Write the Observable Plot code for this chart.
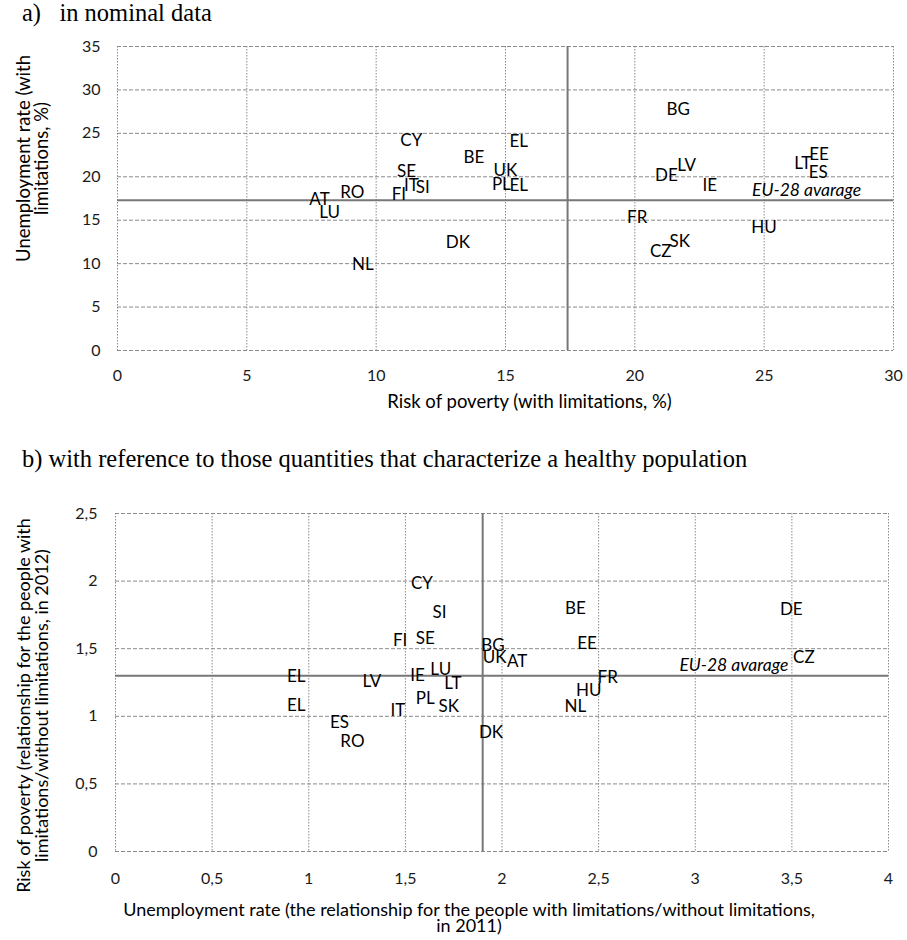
<!DOCTYPE html>
<html>
<head>
<meta charset="utf-8">
<script src="https://cdn.jsdelivr.net/npm/d3@7"></script>
<script src="https://cdn.jsdelivr.net/npm/@observablehq/plot@0.6"></script>
<style>
  html, body { margin: 0; padding: 0; background: #fff; }
  body { width: 907px; height: 940px; position: relative; overflow: hidden; }
  .title { position: absolute; font-family: "Liberation Serif", "Times New Roman", serif; font-size: 24.5px; line-height: 1.107; color: #000; white-space: pre; }
  #panelA, #panelB { position: absolute; left: 0; }
  #panelA { top: 0; }
  #panelB { top: 480px; }
</style>
</head>
<body>
<div id="panelA"></div>
<div id="panelB"></div>
<div class="title" style="left:22px; top:-1px;">a)   in nominal data</div>
<div class="title" style="left:22px; top:445px;">b) with reference to those quantities that characterize a healthy population</div>
<script>
// ---------- Panel a: nominal data ----------
const countriesA = ["CY","SE","IT","SI","FI","RO","AT","LU","NL","DK","BE","EL","UK","PL","EL","BG","DE","LV","IE","FR","CZ","SK","HU","LT","EE","ES"];
const povertyA = [11.36,11.17,11.36,11.8,10.88,9.08,7.81,8.2,9.49,13.16,13.78,15.51,15.0,14.84,15.51,21.68,21.22,22.0,22.9,20.09,21.0,21.74,24.99,26.49,27.12,27.09];
const unemploymentA = [24.2,20.6,19.0,18.8,18.0,18.2,17.35,15.9,9.9,12.47,22.25,24.06,20.7,19.1,19.0,27.75,20.2,21.3,19.0,15.35,11.4,12.55,14.1,21.5,22.6,20.45];
const avgPovertyA = 17.4;
const avgUnemploymentA = 17.3;
const ticksXA = [0,5,10,15,20,25,30];
const ticksYA = [0,5,10,15,20,25,30,35];

// ---------- Panel b: ratios to healthy population ----------
const countriesB = ["CY","SI","FI","SE","BE","DE","BG","UK","AT","EE","CZ","FR","HU","NL","DK","SK","PL","IT","EL","ES","RO","EL","LV","IE","LU","LT"];
const unempRatioB = [1.586,1.677,1.473,1.603,2.38,3.497,1.953,1.962,2.078,2.44,3.562,2.547,2.449,2.38,1.943,1.724,1.603,1.461,0.935,1.159,1.226,0.935,1.327,1.563,1.683,1.746];
const povertyRatioB = [1.98,1.766,1.56,1.573,1.80,1.788,1.524,1.433,1.408,1.54,1.437,1.285,1.19,1.075,0.882,1.072,1.129,1.043,1.08,0.956,0.814,1.294,1.257,1.30,1.344,1.24];
const avgUnempB = 1.9;
const avgPovertyB = 1.3;
const ticksXB = [0,0.5,1,1.5,2,2.5,3,3.5,4];
const ticksYB = [0,0.5,1,1.5,2,2.5];

const euLabel = "EU-28 avarage";
const fmtComma = d => String(d).replace(".", ",");

const FONT = "Lato, 'Open Sans', sans-serif";
const gridColor = "#8a8a8a";
const avgColor = "#777777";
const LABEL_SIZE = 17;
const TICK_SIZE = 16;
const TITLE_SIZE = 18.5;

const dataA = countriesA.map((c, i) => ({c, x: povertyA[i], y: unemploymentA[i]}));
const dataB = countriesB.map((c, i) => ({c, x: unempRatioB[i], y: povertyRatioB[i]}));

const plotA = Plot.plot({
  width: 907,
  height: 420,
  marginTop: 46,
  marginBottom: 70,
  marginLeft: 117,
  marginRight: 14,
  style: {fontFamily: FONT, fontSize: "16px", color: "#1a1a1a", background: "transparent", overflow: "visible"},
  x: {domain: [0, 30]},
  y: {domain: [0, 35]},
  marks: [
    Plot.gridX(ticksXA, {stroke: gridColor, strokeOpacity: 1, strokeDasharray: "1.5,1.5"}),
    Plot.gridY(ticksYA, {stroke: gridColor, strokeOpacity: 1, strokeDasharray: "4,2"}),
    Plot.ruleX([avgPovertyA], {stroke: avgColor, strokeWidth: 2}),
    Plot.ruleY([avgUnemploymentA], {stroke: avgColor, strokeWidth: 2}),
    Plot.axisX({ticks: ticksXA, tickSize: 0, tickPadding: 19, fontSize: TICK_SIZE, label: null}),
    Plot.axisY({ticks: ticksYA, tickSize: 0, tickPadding: 17, fontSize: TICK_SIZE, label: null}),
    Plot.text(dataA, {x: "x", y: "y", text: "c", fontSize: LABEL_SIZE, fill: "#000", textAnchor: "middle", lineAnchor: "middle"}),
    Plot.text([euLabel], {x: 26.64, y: 18.4, text: d => d, fontSize: 17.5, fontStyle: "italic", fill: "#000", textAnchor: "middle", lineAnchor: "middle"}),
    Plot.text(["Risk of poverty (with limitations, %)"], {frameAnchor: "bottom", text: d => d, dx: 24, dy: 52, fontSize: TITLE_SIZE, fill: "#000", lineAnchor: "middle"}),
    Plot.text(["Unemployment rate (with\nlimitations, %)"], {frameAnchor: "left", text: d => d, rotate: -90, dx: -84, dy: -40, fontSize: TITLE_SIZE, lineHeight: 0.95, fill: "#000", textAnchor: "middle", lineAnchor: "middle"})
  ]
});
document.getElementById("panelA").appendChild(plotA);

const plotB = Plot.plot({
  width: 907,
  height: 460,
  marginTop: 33,
  marginBottom: 89,
  marginLeft: 115,
  marginRight: 19,
  style: {fontFamily: FONT, fontSize: "16px", color: "#1a1a1a", background: "transparent", overflow: "visible"},
  x: {domain: [0, 4]},
  y: {domain: [0, 2.5]},
  marks: [
    Plot.gridX(ticksXB, {stroke: gridColor, strokeOpacity: 1, strokeDasharray: "1.5,1.5"}),
    Plot.gridY(ticksYB, {stroke: gridColor, strokeOpacity: 1, strokeDasharray: "4,2"}),
    Plot.ruleX([avgUnempB], {stroke: avgColor, strokeWidth: 2}),
    Plot.ruleY([avgPovertyB], {stroke: avgColor, strokeWidth: 2}),
    Plot.axisX({ticks: ticksXB, tickFormat: fmtComma, tickSize: 0, tickPadding: 21, fontSize: TICK_SIZE, label: null}),
    Plot.axisY({ticks: ticksYB, tickFormat: fmtComma, tickSize: 0, tickPadding: 18, fontSize: TICK_SIZE, label: null}),
    Plot.text(dataB, {x: "x", y: "y", text: "c", fontSize: LABEL_SIZE, fill: "#000", textAnchor: "middle", lineAnchor: "middle"}),
    Plot.text([euLabel], {x: 3.2, y: 1.376, text: d => d, fontSize: 17.5, fontStyle: "italic", fill: "#000", textAnchor: "middle", lineAnchor: "middle"}),
    Plot.text(["Unemployment rate (the relationship for the people with limitations/without limitations,\nin 2011)"], {frameAnchor: "bottom", text: d => d, dx: -33, dy: 67, fontSize: 18, lineHeight: 0.92, fill: "#000", lineAnchor: "middle"}),
    Plot.text(["Risk of poverty (relationship for the people with\nlimitations/without limitations, in 2012)"], {frameAnchor: "left", text: d => d, rotate: -90, dx: -82, dy: 23, fontSize: 18, lineHeight: 0.95, fill: "#000", textAnchor: "middle", lineAnchor: "middle"})
  ]
});
document.getElementById("panelB").appendChild(plotB);
</script>
</body>
</html>
